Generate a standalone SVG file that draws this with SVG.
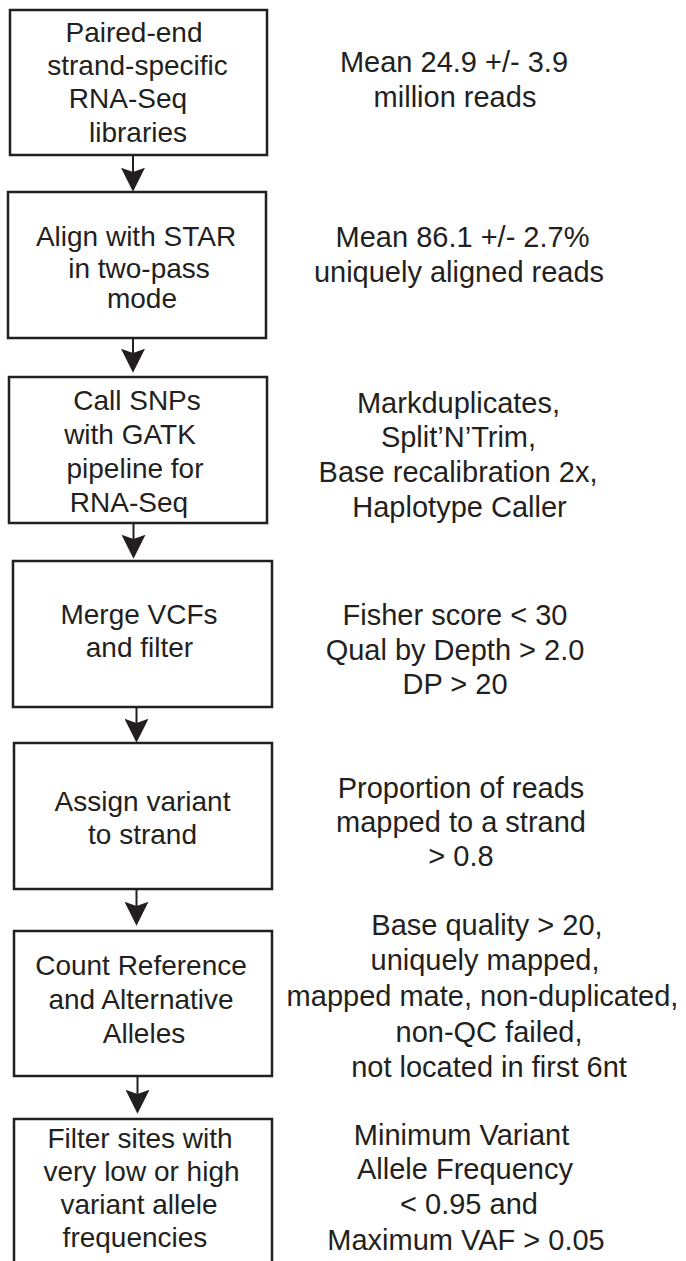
<svg xmlns="http://www.w3.org/2000/svg" width="686" height="1261" viewBox="0 0 686 1261">
<style>
.box{fill:#ffffff;stroke:#231f20;stroke-width:2.5}
.t{font-family:"Liberation Sans",Arial,Helvetica,sans-serif;font-size:28px;fill:#231f20;text-anchor:middle}
.n{font-family:"Liberation Sans",Arial,Helvetica,sans-serif;font-size:29px;fill:#231f20;text-anchor:middle}
.c{stroke:#231f20;stroke-width:2;fill:none}
</style>
<defs>
<marker id="ah" markerUnits="userSpaceOnUse" markerWidth="24" markerHeight="24" viewBox="0 0 22 22" refX="14" refY="11" orient="auto">
<path d="M0,0 L22,11 L0,22 L4,11 Z" fill="#231f20"/>
</marker>
</defs>
<rect width="686" height="1261" fill="#ffffff"/>
<g id="connectors">
<line class="c" x1="133" y1="155" x2="133" y2="183" marker-end="url(#ah)"/>
<line class="c" x1="133" y1="338" x2="133" y2="364" marker-end="url(#ah)"/>
<line class="c" x1="133.5" y1="524" x2="133.5" y2="550" marker-end="url(#ah)"/>
<line class="c" x1="136.5" y1="708" x2="136.5" y2="734" marker-end="url(#ah)"/>
<line class="c" x1="136.5" y1="890" x2="136.5" y2="917" marker-end="url(#ah)"/>
<line class="c" x1="137.5" y1="1077" x2="137.5" y2="1105" marker-end="url(#ah)"/>
</g>
<g id="node1">
<rect class="box" x="10" y="10" width="257" height="145"/>
<text class="t" x="134" y="41.5">Paired-end</text>
<text class="t" x="137.5" y="74.5">strand-specific</text>
<text class="t" x="128" y="108">RNA-Seq</text>
<text class="t" x="138" y="141.5">libraries</text>
</g>
<g id="note1">
<text class="n" x="454" y="72">Mean 24.9 +/- 3.9</text>
<text class="n" x="455" y="106.5">million reads</text>
</g>
<g id="node2">
<rect class="box" x="8" y="192" width="258" height="146"/>
<text class="t" x="136" y="246">Align with STAR</text>
<text class="t" x="139" y="278">in two-pass</text>
<text class="t" x="142" y="308">mode</text>
</g>
<g id="note2">
<text class="n" x="462.5" y="246.5">Mean 86.1 +/- 2.7%</text>
<text class="n" x="459" y="281.5">uniquely aligned reads</text>
</g>
<g id="node3">
<rect class="box" x="9" y="377" width="258" height="146"/>
<text class="t" x="137" y="410">Call SNPs</text>
<text class="t" x="130" y="444">with GATK</text>
<text class="t" x="135" y="477.5">pipeline for</text>
<text class="t" x="129" y="511.5">RNA-Seq</text>
</g>
<g id="note3">
<text class="n" x="458.5" y="412.5">Markduplicates,</text>
<text class="n" x="458.5" y="446.5">Split’N’Trim,</text>
<text class="n" x="458" y="481.5">Base recalibration 2x,</text>
<text class="n" x="459.5" y="517">Haplotype Caller</text>
</g>
<g id="node4">
<rect class="box" x="13" y="561" width="259" height="146"/>
<text class="t" x="139" y="623.5">Merge VCFs</text>
<text class="t" x="139.5" y="656.5">and filter</text>
</g>
<g id="note4">
<text class="n" x="455" y="624.5">Fisher score &lt; 30</text>
<text class="n" x="455" y="659.5">Qual by Depth &gt; 2.0</text>
<text class="n" x="455" y="694">DP &gt; 20</text>
</g>
<g id="node5">
<rect class="box" x="14" y="743" width="258" height="146"/>
<text class="t" x="142.5" y="811">Assign variant</text>
<text class="t" x="142.5" y="844">to strand</text>
</g>
<g id="note5">
<text class="n" x="461" y="798">Proportion of reads</text>
<text class="n" x="461" y="832">mapped to a strand</text>
<text class="n" x="461" y="866">&gt; 0.8</text>
</g>
<g id="node6">
<rect class="box" x="14" y="931" width="258" height="145"/>
<text class="t" x="141" y="975">Count Reference</text>
<text class="t" x="141" y="1008.5">and Alternative</text>
<text class="t" x="144" y="1043">Alleles</text>
</g>
<g id="note6">
<text class="n" x="487" y="935">Base quality &gt; 20,</text>
<text class="n" x="485" y="969.5">uniquely mapped,</text>
<text class="n" x="482.5" y="1006">mapped mate, non-duplicated,</text>
<text class="n" x="489" y="1041.5">non-QC failed,</text>
<text class="n" x="489" y="1076.5">not located in first 6nt</text>
</g>
<g id="node7">
<rect class="box" x="14" y="1119" width="258" height="150"/>
<text class="t" x="140" y="1148">Filter sites with</text>
<text class="t" x="141.5" y="1181">very low or high</text>
<text class="t" x="139" y="1213.5">variant allele</text>
<text class="t" x="135" y="1246.5">frequencies</text>
</g>
<g id="note7">
<text class="n" x="461.5" y="1144.5">Minimum Variant</text>
<text class="n" x="465" y="1179">Allele Frequency</text>
<text class="n" x="469" y="1214">&lt; 0.95 and</text>
<text class="n" x="466" y="1249.5">Maximum VAF &gt; 0.05</text>
</g>
</svg>
